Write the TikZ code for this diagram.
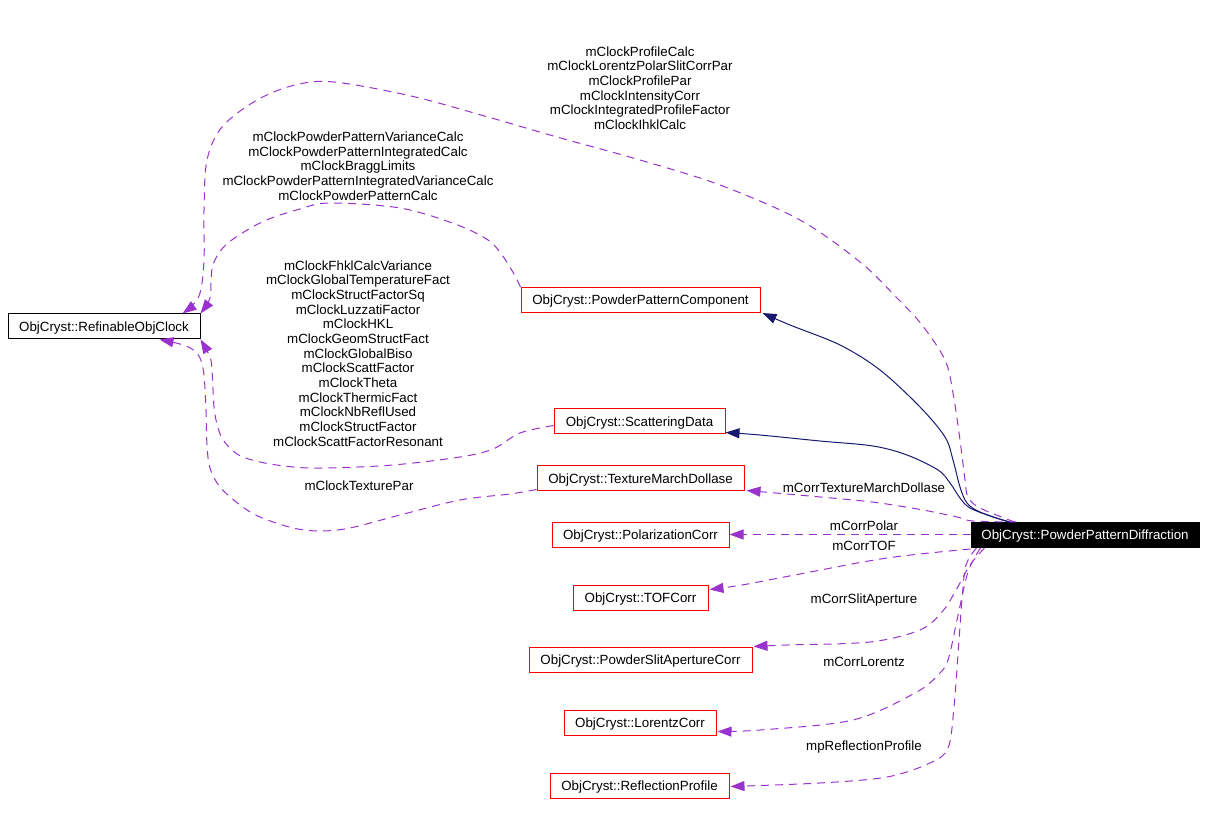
\documentclass[tikz,border=0pt]{standalone}
\usepackage{fontspec}
\setmainfont{Liberation Sans}
\usetikzlibrary{arrows.meta,calc}
\definecolor{usecol}{HTML}{9A32CD}
\definecolor{navyc}{HTML}{191970}
\begin{document}
\begin{tikzpicture}[x=0.75pt,y=-0.75pt,
  box/.style={draw=red, line width=0.75pt, minimum height=18.75pt, inner sep=0pt,
    text height=8pt, text depth=1pt, font=\fontsize{10}{12}\selectfont, fill=white},
  lbl/.style={align=center, font=\fontsize{10}{11}\selectfont, inner sep=0pt},
  slbl/.style={anchor=base, font=\fontsize{10}{12}\selectfont, inner sep=0pt},
  usage/.style={draw=usecol, line width=0.75pt, dash pattern=on 6pt off 4.5pt,
    -{Triangle[length=10.5pt,width=7.5pt]}},
  inherit/.style={draw=navyc, line width=0.75pt,
    -{Triangle[length=10.5pt,width=7.5pt]}},
  sm/.style={smooth, tension=0.55}]
\useasboundingbox (0,0) rectangle (1207,816);

% nodes
\node[box, draw=black, minimum width=144pt] (clock) at (104,326.5) {ObjCryst::RefinableObjClock};
\node[box, minimum width=179.25pt] (ppc) at (640.5,300) {ObjCryst::PowderPatternComponent};
\node[box, draw=black, fill=black, text=white, minimum width=171pt] (ppd) at (1085,535) {ObjCryst::PowderPatternDiffraction};
\node[box, minimum width=128.25pt] (sd) at (639.5,421.5) {ObjCryst::ScatteringData};
\node[box, minimum width=155.25pt] (tmd) at (640.5,478.5) {ObjCryst::TextureMarchDollase};
\node[box, minimum width=132.75pt] (pol) at (640.5,535) {ObjCryst::PolarizationCorr};
\node[box, minimum width=101.25pt] (tof) at (640.5,597.5) {ObjCryst::TOFCorr};
\node[box, minimum width=167.25pt] (psa) at (640.5,659.5) {ObjCryst::PowderSlitApertureCorr};
\node[box, minimum width=114pt] (lor) at (640,722.5) {ObjCryst::LorentzCorr};
\node[box, minimum width=134.25pt] (rp) at (639.5,785.5) {ObjCryst::ReflectionProfile};

% inheritance edges
\draw[inherit] plot[sm] coordinates {($(ppd.north west)+(38,0)$) (980,512) (967,503) (960,487) (953,460) (945,437) (920,407) (880,370) (840,345) (790,325) ($(ppc.south east)+(2,0)$)};
\draw[inherit] plot[sm] coordinates {($(ppd.north west)+(40,0)$) (993,517) (970,508) (960,498) (950,483) (938,470) (907,455) (873,446) (820,441) (760,435) ($(sd.south east)+(0,-2)$)};

% usage edges from PPD
\draw[usage] plot[sm] coordinates {($(ppd.north west)+(44,0)$) (980,508) (968,497) (965,480) (960,440) (953,393) (945,360) (922,325) (897,298) (860,262) (800,220) (720,185) (640,160) (557,137) (488,117) (411,96) (334,82) (295,85) (257,100) (222,127) (207,160) (204,210) (204,260) (199,296) ($(clock.north east)+(-18,0)$)};
\draw[usage] plot[sm] coordinates {($(ppd.north west)+(46,0)$) (973,521) (957,517) (923,510) (880,503) (853,500) (787,494) ($(tmd.south east)+(2,-1)$)};
\draw[usage] ($(ppd.west)+(0,-0.5)$) -- ($(pol.east)+(0,-0.5)$);
\draw[usage] plot[sm] coordinates {($(ppd.south west)+(0,1)$) (887,558) (800,574) (742,585) ($(tof.north east)+(1,5)$)};
\draw[usage] plot[sm] coordinates {($(ppd.south west)+(14,0)$) (970,565) (955,592) (942,612) (920,630) (870,642) (787,645) ($(psa.north east)+(1,0)$)};
\draw[usage] plot[sm] coordinates {($(ppd.south west)+(10,0)$) (968,572) (957,620) (948,660) (938,675) (915,693) (853,720) (760,730) ($(lor.south east)+(1,-4)$)};
\draw[usage] plot[sm] coordinates {($(ppd.south west)+(6,0)$) (966,565) (962,600) (959,640) (954,707) (948,748) (930,763) (887,777) (820,783) ($(rp.east)+(1,1)$)};

% usage edges into clock
\draw[usage] plot[sm] coordinates {(ppc.north west) (514,274) (502,255) (488,240) (455,224) (400,208) (330,203) (300,209) (262,222) (228,243) (214,262) (211,280) (210,298) (clock.north east)};
\draw[usage] plot[sm] coordinates {($(sd.south west)+(0,-9)$) (520,433) (493,449) (460,457) (393,465) (327,468) (293,467) (260,462) (237,454) (222,438) (215,415) (213,390) (212,370) (210,357) (clock.south east)};
\draw[usage] plot[sm] coordinates {($(tmd.south west)+(0,-2)$) (510,494) (460,500) (400,515) (350,528) (320,531) (293,528) (260,517) (240,505) (220,487) (210,468) (207,445) (206,410) (204,375) (200,358) (192,349) (180,344) ($(clock.south west)+(152,0)$)};

% labels
\node[lbl] (l1) at (640,88) {mClockProfileCalc\\mClockLorentzPolarSlitCorrPar\\mClockProfilePar\\mClockIntensityCorr\\mClockIntegratedProfileFactor\\mClockIhklCalc};
\node[lbl] (l2) at (358,166) {mClockPowderPatternVarianceCalc\\mClockPowderPatternIntegratedCalc\\mClockBraggLimits\\mClockPowderPatternIntegratedVarianceCalc\\mClockPowderPatternCalc};
\node[lbl] (l3) at (358,353.5) {mClockFhklCalcVariance\\mClockGlobalTemperatureFact\\mClockStructFactorSq\\mClockLuzzatiFactor\\mClockHKL\\mClockGeomStructFact\\mClockGlobalBiso\\mClockScattFactor\\mClockTheta\\mClockThermicFact\\mClockNbReflUsed\\mClockStructFactor\\mClockScattFactorResonant};
\node[slbl] (l4) at (359,490) {mClockTexturePar};
\node[slbl] (l5) at (864,493) {mCorrTextureMarchDollase};
\node[slbl] (l6) at (864,531) {mCorrPolar};
\node[slbl] (l7) at (864,551) {mCorrTOF};
\node[slbl] (l8) at (864,603) {mCorrSlitAperture};
\node[slbl] (l9) at (864,666) {mCorrLorentz};
\node[slbl] (l10) at (864,750) {mpReflectionProfile};
\end{tikzpicture}
\end{document}
